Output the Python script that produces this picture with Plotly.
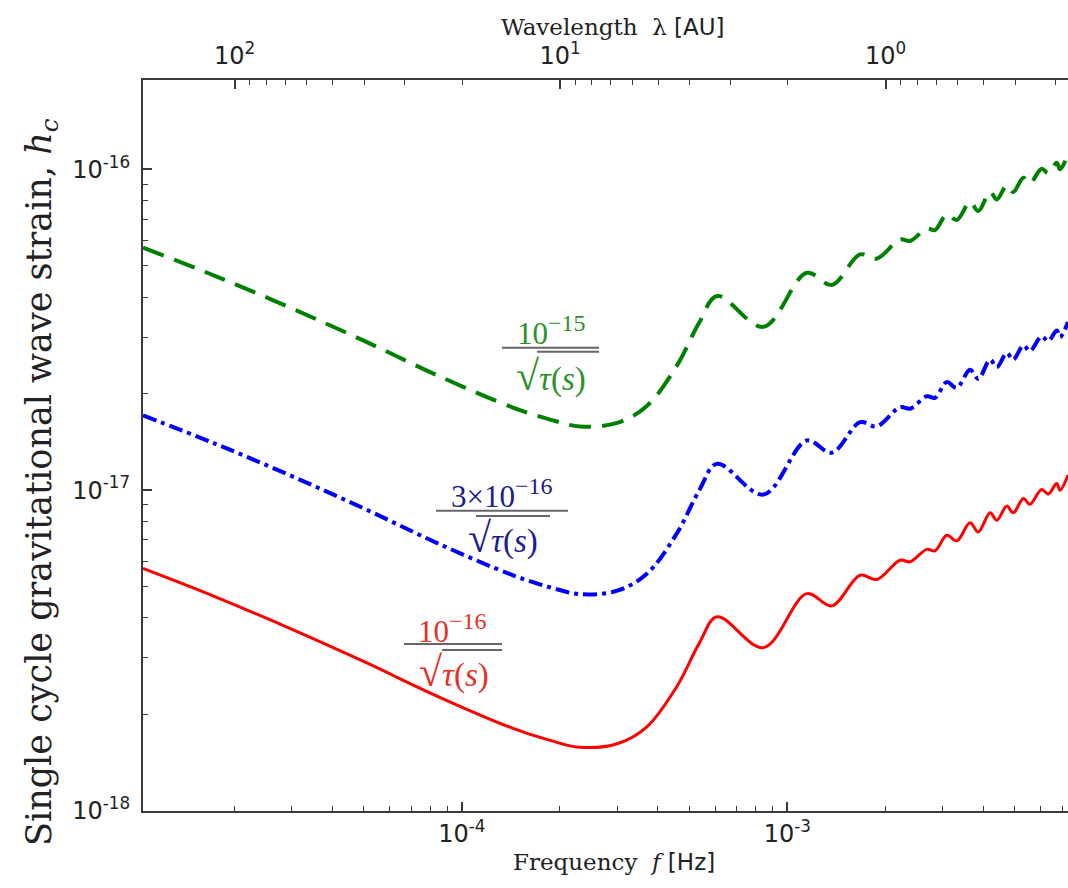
import math
import plotly.graph_objects as go

# ---------------- data ----------------
freq_hz = [1.048e-5, 1.749e-5, 2.960e-5, 5.01e-5, 8.48e-5, 1.435e-4, 1.867e-4, 2.305e-4,
           3.0e-4, 3.70e-4, 4.57e-4, 5.36e-4, 6.08e-4, 8.44e-4, 1.147e-3, 1.369e-3,
           1.672e-3, 1.882e-3, 2.219e-3, 2.381e-3, 2.68e-3, 2.842e-3, 3.087e-3, 3.314e-3,
           3.64e-3, 3.86e-3, 4.194e-3, 4.40e-3, 4.72e-3, 4.94e-3, 5.31e-3, 5.56e-3,
           6.04e-3, 6.33e-3, 6.72e-3, 6.88e-3, 7.28e-3]

strain_1e16 = [5.70e-18, 4.65e-18, 3.71e-18, 2.92e-18, 2.27e-18, 1.81e-18, 1.66e-18, 1.58e-18,
               1.62e-18, 1.83e-18, 2.44e-18, 3.33e-18, 4.03e-18, 3.23e-18, 4.76e-18, 4.36e-18,
               5.43e-18, 5.27e-18, 6.05e-18, 5.98e-18, 6.54e-18, 6.47e-18, 7.24e-18, 6.95e-18,
               7.91e-18, 7.41e-18, 8.50e-18, 8.06e-18, 8.92e-18, 8.50e-18, 9.42e-18, 9.04e-18,
               1.005e-17, 9.72e-18, 1.049e-17, 1.00e-17, 1.114e-17]

strain_3e16 = [1.71e-17, 1.395e-17, 1.113e-17, 8.76e-18, 6.81e-18, 5.43e-18, 4.98e-18, 4.74e-18,
               4.86e-18, 5.49e-18, 7.32e-18, 9.99e-18, 1.209e-17, 9.69e-18, 1.428e-17, 1.308e-17,
               1.629e-17, 1.581e-17, 1.815e-17, 1.794e-17, 1.962e-17, 1.941e-17, 2.172e-17, 2.085e-17,
               2.373e-17, 2.223e-17, 2.55e-17, 2.418e-17, 2.676e-17, 2.55e-17, 2.826e-17, 2.712e-17,
               3.015e-17, 2.916e-17, 3.147e-17, 3.0e-17, 3.342e-17]

strain_1e15 = [5.70e-17, 4.65e-17, 3.71e-17, 2.92e-17, 2.27e-17, 1.81e-17, 1.66e-17, 1.58e-17,
               1.62e-17, 1.83e-17, 2.44e-17, 3.33e-17, 4.03e-17, 3.23e-17, 4.76e-17, 4.36e-17,
               5.43e-17, 5.27e-17, 6.05e-17, 5.98e-17, 6.54e-17, 6.47e-17, 7.24e-17, 6.95e-17,
               7.91e-17, 7.41e-17, 8.50e-17, 8.06e-17, 8.92e-17, 8.50e-17, 9.42e-17, 9.04e-17,
               1.005e-16, 9.72e-17, 1.049e-16, 1.00e-16, 1.114e-16]

x_tickvals = [1e-5, 1e-4, 1e-3]
x_ticktext = ["10<sup>-5</sup>", "10<sup>-4</sup>", "10<sup>-3</sup>"]
y_tickvals = [1e-18, 1e-17, 1e-16]
y_ticktext = ["10<sup>-18</sup>", "10<sup>-17</sup>", "10<sup>-16</sup>"]
top_tickvals = [100, 10, 1]
top_ticktext = ["10<sup>2</sup>", "10<sup>1</sup>", "10<sup>0</sup>"]

# light travel: wavelength [AU] = C_AU / f[Hz]
C_AU = 2.998e8 / 1.496e11

# ---------------- layout constants ----------------
W, H = 1068, 888
PL, PR, PT, PB = 143, 1068, 80, 811
X_RANGE = [-4.9797, -2.1379]
Y_RANGE = [-18.0, -15.7215]
X2_RANGE = [math.log10(C_AU) - r for r in X_RANGE]


def xp(px):
    return (px - PL) / (PR - PL)


def yp(py):
    return (PB - py) / (PB - PT)


SERIF = "DejaVu Serif"
MATH = "Liberation Serif"
SANS = "DejaVu Sans"
AXC = "#3a3a3a"

minor_x = [m * 10.0 ** e for e in range(-6, -1) for m in range(2, 10)]
minor_y = [m * 10.0 ** e for e in range(-19, -15) for m in range(2, 10)]
minor_top = [m * 10.0 ** e for e in range(-2, 3) for m in range(2, 10)]

fig = go.Figure()

fig.add_trace(go.Scatter(x=freq_hz, y=strain_1e15, mode="lines",
                         line=dict(color="#008000", width=4, dash="22px,11px", shape="spline"),
                         hoverinfo="skip", showlegend=False))
fig.add_trace(go.Scatter(x=freq_hz, y=strain_3e16, mode="lines",
                         line=dict(color="#0000ff", width=4, dash="14px,5px,4px,5px", shape="spline"),
                         hoverinfo="skip", showlegend=False))
fig.add_trace(go.Scatter(x=freq_hz, y=strain_1e16, mode="lines",
                         line=dict(color="#ff0000", width=3, shape="spline"),
                         hoverinfo="skip", showlegend=False))
# invisible trace that carries the wavelength (top) axis
fig.add_trace(go.Scatter(x=[C_AU / f for f in freq_hz], y=strain_1e16, xaxis="x2", mode="lines",
                         line=dict(width=0), opacity=0, hoverinfo="skip", showlegend=False))

axis_common = dict(type="log", showgrid=False, zeroline=False, showline=True,
                   linecolor=AXC, linewidth=2, ticks="inside", ticklen=9, tickwidth=1.5,
                   tickcolor=AXC, tickfont=dict(family=SANS, size=24, color="#222"),
                   tickmode="array")

fig.update_layout(
    width=W, height=H,
    margin=dict(l=PL, r=W - PR, t=PT, b=H - PB),
    paper_bgcolor="white", plot_bgcolor="white",
    showlegend=False,
    xaxis=dict(**axis_common, range=X_RANGE, tickvals=x_tickvals, ticktext=x_ticktext,
               ticklabelstandoff=0,
               minor=dict(tickmode="array", tickvals=minor_x, ticks="inside", ticklen=5,
                          tickwidth=1, tickcolor=AXC, showgrid=False)),
    yaxis=dict(**axis_common, range=Y_RANGE, tickvals=y_tickvals, ticktext=y_ticktext,
               ticklabelstandoff=6,
               minor=dict(tickmode="array", tickvals=minor_y, ticks="inside", ticklen=5,
                          tickwidth=1, tickcolor=AXC, showgrid=False)),
    xaxis2=dict(**axis_common, overlaying="x", side="top", anchor="y", range=X2_RANGE,
                tickvals=top_tickvals, ticktext=top_ticktext, ticklabelstandoff=4,
                minor=dict(tickmode="array", tickvals=minor_top, ticks="inside", ticklen=5,
                           tickwidth=1, tickcolor=AXC, showgrid=False)),
)

ann = []
# axis titles
ann.append(dict(text="Wavelength\u00a0\u00a0λ <span style='font-family:DejaVu Sans'>[AU]</span>",
                x=xp(613), y=yp(27), xref="paper", yref="paper", showarrow=False,
                xanchor="center", yanchor="middle",
                font=dict(family=SERIF, size=23, color="#222")))
ann.append(dict(text="Frequency\u00a0\u00a0<i>f</i> <span style='font-family:DejaVu Sans'>[Hz]</span>",
                x=xp(614), y=yp(862), xref="paper", yref="paper", showarrow=False,
                xanchor="center", yanchor="middle",
                font=dict(family=SERIF, size=23, color="#222")))
ann.append(dict(text="Single cycle gravitational wave strain, <i>h</i><sub><i>c</i></sub>",
                x=xp(41), y=yp(482), xref="paper", yref="paper", showarrow=False, textangle=-90,
                xanchor="center", yanchor="middle",
                font=dict(family=SERIF, size=35, color="#222")))

# curve labels: (exponent, prefix, colour, numerator centre, denominator centre, bar, vinculum)
labels = [
    ("−15", "", "#2a922a", (551, 330), (551, 376), (502, 599, 347.7), (537, 599, 351.7)),
    ("−16", "3×", "#1c1c8c", (502, 493), (503, 538), (436, 568, 510.7), (476, 550, 516)),
    ("−16", "", "#e8302a", (452, 628), (454, 672), (404, 502, 644), (442, 502, 650)),
]
shapes = []
for expo, pre, col, nc, dc, bar, vin in labels:
    num = pre + "10<sup><span style='font-size:24px'>" + expo + "</span></sup>"
    ann.append(dict(text=num, x=xp(nc[0]), y=yp(nc[1]), xref="paper", yref="paper",
                    showarrow=False, xanchor="center", yanchor="middle",
                    font=dict(family=MATH, size=31, color=col)))
    ann.append(dict(text="<span style='font-size:42px'>√</span><i>τ</i>(<i>s</i>)",
                    x=xp(dc[0]), y=yp(dc[1]), xref="paper", yref="paper", showarrow=False,
                    xanchor="center", yanchor="middle",
                    font=dict(family=MATH, size=33, color=col)))
    for x0, x1, yy in (bar, vin):
        shapes.append(dict(type="line", xref="paper", yref="paper", x0=xp(x0), x1=xp(x1),
                           y0=yp(yy), y1=yp(yy), line=dict(color="#666", width=2)))

fig.update_layout(annotations=ann, shapes=shapes)

fig.write_html("out.html")
